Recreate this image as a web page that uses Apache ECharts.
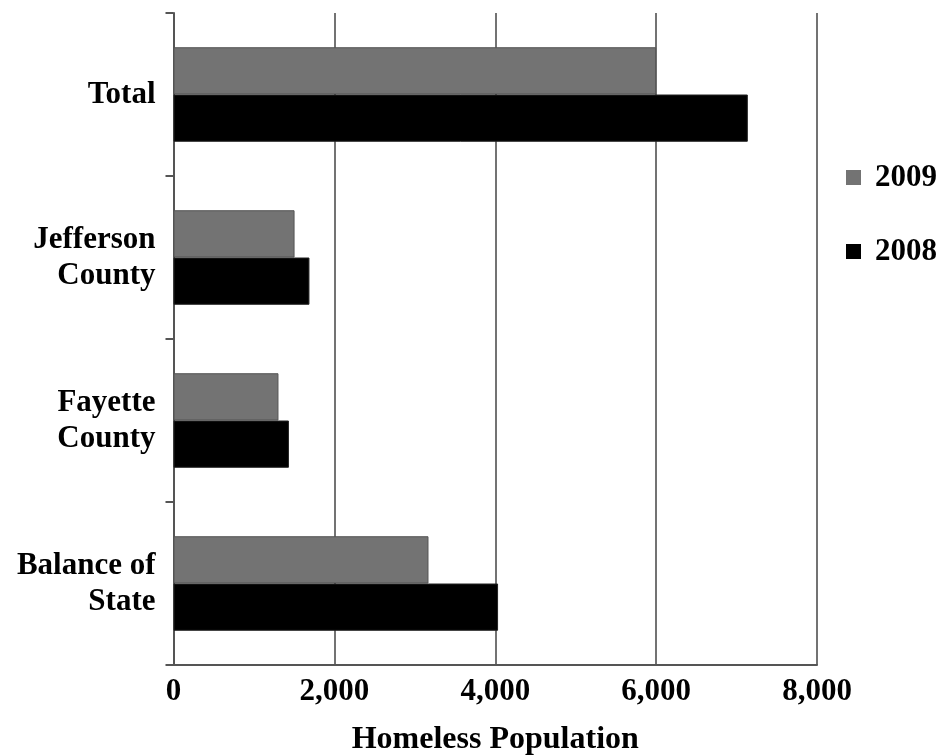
<!DOCTYPE html>
<html>
<head>
<meta charset="utf-8">
<style>
  html, body { margin: 0; padding: 0; background: #fff; }
  #chart { width: 939px; height: 755px; }
</style>
<script src="https://cdn.jsdelivr.net/npm/echarts@6/dist/echarts.min.js"></script>
</head>
<body>
<div id="chart"></div>
<script>
// Homeless population by area, 2008 vs 2009
const categories = ['Total', 'Jefferson\nCounty', 'Fayette\nCounty', 'Balance of\nState'];
const values2009 = [6000, 1505, 1305, 3170];
const values2008 = [7140, 1690, 1435, 4035];
const xTicks = { min: 0, max: 8000, interval: 2000 };

const font = '"Liberation Serif", "Times New Roman", serif';

const chart = echarts.init(document.getElementById('chart'));
chart.setOption({
  animation: false,
  backgroundColor: '#fff',
  textStyle: { fontFamily: font },
  grid: {
    left: 173.5, right: 122, top: 13, bottom: 90,
    containLabel: false, outerBoundsMode: 'none'
  },
  legend: {
    orient: 'vertical',
    left: 841,
    top: 157,
    itemWidth: 15,
    itemHeight: 15,
    itemGap: 43,
    icon: 'rect',
    itemStyle: { borderWidth: 0 },
    textStyle: { fontFamily: font, fontWeight: 'bold', fontSize: 31, color: '#000', padding: [0, 0, 0, 9] },
    data: ['2009', '2008']
  },
  xAxis: {
    type: 'value',
    min: xTicks.min,
    max: xTicks.max,
    interval: xTicks.interval,
    name: 'Homeless Population',
    nameLocation: 'middle',
    nameGap: 59,
    nameTextStyle: { fontFamily: font, fontWeight: 'bold', fontSize: 32, color: '#000' },
    axisLine: { show: true, lineStyle: { color: '#555', width: 2 } },
    axisTick: { show: false },
    axisLabel: {
      fontFamily: font, fontWeight: 'bold', fontSize: 31, color: '#000', margin: 11,
      formatter: v => v.toLocaleString('en-US')
    },
    splitLine: { show: true, lineStyle: { color: '#444', width: 1.5 } }
  },
  yAxis: {
    type: 'category',
    inverse: true,
    data: categories,
    axisLine: { show: true, lineStyle: { color: '#555', width: 2 } },
    axisTick: { show: true, length: 8, lineStyle: { color: '#555', width: 2 } },
    axisLabel: {
      fontFamily: font, fontWeight: 'bold', fontSize: 31, color: '#000',
      margin: 18, lineHeight: 36, align: 'right'
    },
    splitLine: { show: false }
  },
  series: [
    {
      name: '2009',
      type: 'bar',
      data: values2009,
      barGap: '0%',
      barCategoryGap: '42%',
      itemStyle: { color: '#737373', borderColor: '#555', borderWidth: 1 }
    },
    {
      name: '2008',
      type: 'bar',
      data: values2008,
      barGap: '0%',
      barCategoryGap: '42%',
      itemStyle: { color: '#000', borderColor: '#222', borderWidth: 1 }
    }
  ]
});
</script>
</body>
</html>
